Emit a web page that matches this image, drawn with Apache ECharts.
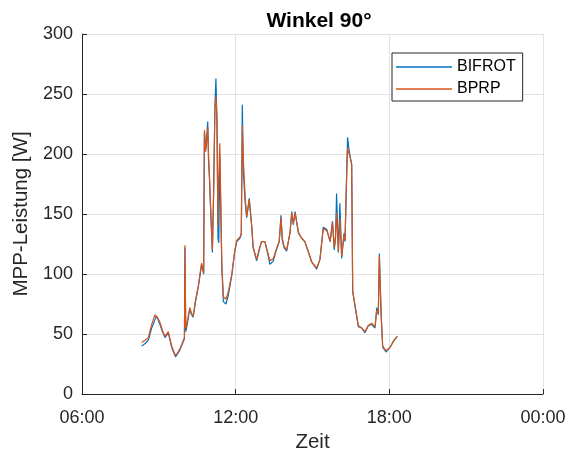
<!DOCTYPE html>
<html>
<head>
<meta charset="utf-8">
<script src="https://cdn.jsdelivr.net/npm/echarts@6/dist/echarts.min.js"></script>
<style>html,body{margin:0;padding:0;background:#fff}#c{width:568px;height:453px}</style>
</head>
<body>
<div id="c"></div>
<script>
// time of day in hours
var times = [8.33,8.47,8.59,8.72,8.85,8.91,8.97,9.04,9.14,9.24,9.37,9.50,9.65,9.75,9.83,9.96,10.00,10.02,10.05,10.09,
10.21,10.28,10.34,10.44,10.54,10.67,10.75,10.78,10.83,10.87,10.91,10.94,10.98,11.01,11.09,11.14,11.19,11.23,11.27,11.31,
11.34,11.38,11.42,11.46,11.52,11.62,11.71,11.85,11.96,12.04,12.17,12.22,12.26,12.30,12.37,12.43,12.53,12.63,12.68,12.82,
12.92,13.01,13.14,13.24,13.34,13.47,13.56,13.64,13.70,13.77,13.82,13.89,13.99,14.12,14.19,14.25,14.32,14.45,14.57,14.70,
14.83,14.97,15.16,15.29,15.42,15.56,15.69,15.78,15.85,15.90,15.94,16.01,16.07,16.14,16.23,16.27,16.34,16.37,16.43,16.47,
16.53,16.57,16.66,16.79,16.92,17.05,17.18,17.31,17.44,17.51,17.57,17.61,17.68,17.74,17.87,18.03,18.16,18.31];
var bifrot = [40,42,45,55,62,65,62,58,52,47,51,39,31,34,37,44,46,122,52,56,
71,66,64,78,89,108,100,218,205,215,227,195,178,160,118,170,240,263,225,130,
126,200,150,105,77,75,82,99,118,127,130,133,241,185,160,147,163,139,122,111,
120,127,127,118,108,111,118,123,127,149,128,122,119,134,152,141,152,134,130,127,
119,110,104,112,139,137,127,144,120,130,167,118,159,113,134,127,190,214,203,198,
191,85,73,56,55,51,57,58,55,72,66,117,66,39,35,39,44,48];
var bprp = [43,45,47,58,66,67,63,60,53,48,52,40,32,35,38,45,47,124,55,58,
72,67,65,79,90,109,101,220,202,210,222,200,180,162,120,168,238,248,230,140,
180,209,160,108,81,79,85,100,119,128,131,134,224,195,165,148,162,139,123,112,
121,127,127,119,111,113,119,124,127,147,130,123,120,134,151,142,151,135,130,127,
119,110,105,112,138,136,127,143,122,132,151,119,146,115,133,128,186,205,200,197,
192,86,74,57,55,52,57,59,56,70,67,115,67,40,36,39,44,48];
var xTicks = [6, 12, 18, 24];
var yTicks = [0, 50, 100, 150, 200, 250, 300];
var seriesNames = ['BIFROT', 'BPRP'];
var colors = ['#0072BD', '#D95319'];

function pairs(vals){ return times.map(function(t,i){ return [t, vals[i]]; }); }
function fmtHour(h){ var hh = h % 24; return (hh < 10 ? '0' : '') + hh + ':00'; }

var font = 'Liberation Sans, Arial, Helvetica, sans-serif';
var axisCol = '#262626';
var chart = echarts.init(document.getElementById('c'), null, {renderer: 'canvas'});
chart.setOption({
  animation: false,
  backgroundColor: '#fff',
  color: colors,
  title: {
    text: 'Winkel 90°',
    left: 314, top: 6, textAlign: 'center',
    textStyle: {fontFamily: font, fontSize: 21, fontWeight: 'bold', color: '#000'}
  },
  legend: {
    orient: 'vertical', left: 392, top: 53,
    data: seriesNames,
    icon: 'rect', itemWidth: 56, itemHeight: 1.5, itemGap: 6,
    padding: [6, 7, 4, 4],
    borderColor: axisCol, borderWidth: 1, backgroundColor: '#fff', borderRadius: 0,
    textStyle: {fontFamily: font, fontSize: 16, color: '#000', padding: [0,0,0,0]}
  },
  grid: {left: 82, right: 25, top: 34, bottom: 59, containLabel: false, outerBoundsMode: 'none'},
  xAxis: {
    type: 'value', min: xTicks[0], max: xTicks[xTicks.length-1], interval: 6,
    name: 'Zeit', nameLocation: 'middle', nameGap: 37,
    nameTextStyle: {fontFamily: font, fontSize: 20.5, color: axisCol},
    axisLine: {show: true, onZero: false, lineStyle: {color: axisCol, width: 1}},
    axisTick: {show: true, inside: true, length: 5, lineStyle: {color: axisCol}},
    axisLabel: {fontFamily: font, fontSize: 18, color: axisCol, margin: 15, formatter: fmtHour},
    splitLine: {show: true, lineStyle: {color: '#e3e3e3', width: 1}}
  },
  yAxis: {
    type: 'value', min: yTicks[0], max: yTicks[yTicks.length-1], interval: 50,
    name: 'MPP-Leistung [W]', nameLocation: 'middle', nameGap: 48,
    nameTextStyle: {fontFamily: font, fontSize: 20.5, color: axisCol},
    axisLine: {show: true, lineStyle: {color: axisCol, width: 1}},
    axisTick: {show: true, inside: true, length: 5, lineStyle: {color: axisCol}},
    axisLabel: {fontFamily: font, fontSize: 18, color: axisCol, margin: 9},
    splitLine: {show: true, lineStyle: {color: '#e3e3e3', width: 1}}
  },
  series: [
    {name: seriesNames[0], type: 'line', data: pairs(bifrot), symbol: 'none', lineStyle: {width: 1.2, color: colors[0]}},
    {name: seriesNames[1], type: 'line', data: pairs(bprp), symbol: 'none', lineStyle: {width: 1.2, color: colors[1]}}
  ]
});
</script>
</body>
</html>
